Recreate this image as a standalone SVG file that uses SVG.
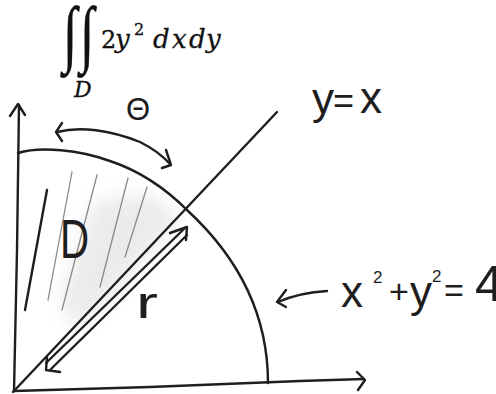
<svg xmlns="http://www.w3.org/2000/svg" width="496" height="394" viewBox="0 0 496 394">
<defs>
<style>
.ink{fill:none;stroke:#1e1e1e;stroke-width:2.4;stroke-linecap:round;stroke-linejoin:round}
.hatch{fill:none;stroke:#8a8a8a;stroke-width:1.3;stroke-linecap:round}
.hand{font-family:"Liberation Sans","DejaVu Sans",sans-serif;fill:#1e1e1e}
.math{font-family:"DejaVu Serif","Liberation Serif",serif;fill:#111;stroke:#111;stroke-width:0.3}
.int{font-family:"Liberation Serif","DejaVu Serif",serif;fill:#111;stroke:#111;stroke-width:0.3}
</style>
<filter id="blur" x="-50%" y="-50%" width="200%" height="200%"><feGaussianBlur stdDeviation="9"/></filter>
</defs>
<rect width="496" height="394" fill="#ffffff"/>

<g id="shading">
<path d="M95,200 L150,195 L180,215 L150,255 L110,300 L75,330 L60,300 Z" fill="#d4d4d4" opacity="0.45" filter="url(#blur)"/>
</g>

<g id="formula">
<text class="int" x="63" y="41" font-size="52" transform="scale(1,1.42)" font-style="italic">∫</text>
<text class="int" x="80" y="41" font-size="52" transform="scale(1,1.42)" font-style="italic">∫</text>
<text class="math" x="101" y="48" font-size="24">2</text>
<text class="math" x="115" y="48" font-size="26" font-style="italic">y</text>
<text class="math" x="134" y="35" font-size="16">2</text>
<text class="math" font-size="26" font-style="italic" y="48"><tspan x="153">d</tspan><tspan x="172">x</tspan><tspan x="189">d</tspan><tspan x="206">y</tspan></text>
<text class="math" x="74" y="97" font-size="22" font-style="italic">D</text>
</g>

<g id="axes">
<path class="ink" d="M19,105 L17,250 L14,391"/>
<path class="ink" d="M10,116 L18,104 L25,115"/>
<path class="ink" d="M14,391 L150,387 L300,381 L364,379"/>
<path class="ink" d="M357,372 L365,380 L358,390"/>
</g>

<g id="region-D">
<line class="hatch" x1="72" y1="172" x2="48" y2="300"/>
<line class="hatch" x1="97" y1="175" x2="62" y2="310"/>
<line class="hatch" x1="128" y1="178" x2="100" y2="287"/>
<line class="hatch" x1="147" y1="187" x2="125" y2="257"/>
<path class="ink" d="M47,190 L25,310"/>
<text class="hand" font-size="56" transform="translate(60,258) scale(0.72,1)">D</text>
</g>

<g id="circle-arc">
<path class="ink" d="M18,153 C40,146 80,150 110,161 C140,171 165,188 187,210 C225,245 268,300 268,383"/>
</g>

<g id="line-y-eq-x">
<line class="ink" x1="13" y1="392" x2="277" y2="112"/>
<text class="hand" font-size="44" y="114"><tspan x="312">y</tspan><tspan x="333" font-size="36" y="113">=</tspan><tspan x="360">x</tspan></text>
</g>

<g id="connectors">
<path class="ink" d="M62,123 L56,132 L62,141"/>
<path class="ink" d="M57,132 C80,126 110,130 140,142 C152,148 162,155 170,164"/>
<path class="ink" d="M166,150 L171,165 L162,168"/>
<path class="ink" d="M46,363 L185,228"/>
<path class="ink" d="M51,369 L187,235"/>
<path class="ink" d="M170,233 L187,227 L186,240"/>
<path class="ink" d="M47,357 L46,370 L60,372"/>
<path class="ink" d="M327,291 C308,292 292,296 278,302"/>
<path class="ink" d="M286,290 L277,302 L286,307"/>
</g>

<g id="labels">
<text class="hand" x="126" y="120" font-size="31">Θ</text>
<text class="hand" font-size="44" transform="translate(136,318) scale(1.5,1)">r</text>
<text class="hand" font-size="44" y="307"><tspan x="341">x</tspan><tspan x="373" y="283" font-size="17">2</tspan><tspan x="389" y="303" font-size="34">+</tspan><tspan x="410" y="307">y</tspan><tspan x="432" y="282" font-size="17">2</tspan><tspan x="444" y="302" font-size="34">=</tspan><tspan x="475" y="301" font-size="50">4</tspan></text>
</g>
</svg>
